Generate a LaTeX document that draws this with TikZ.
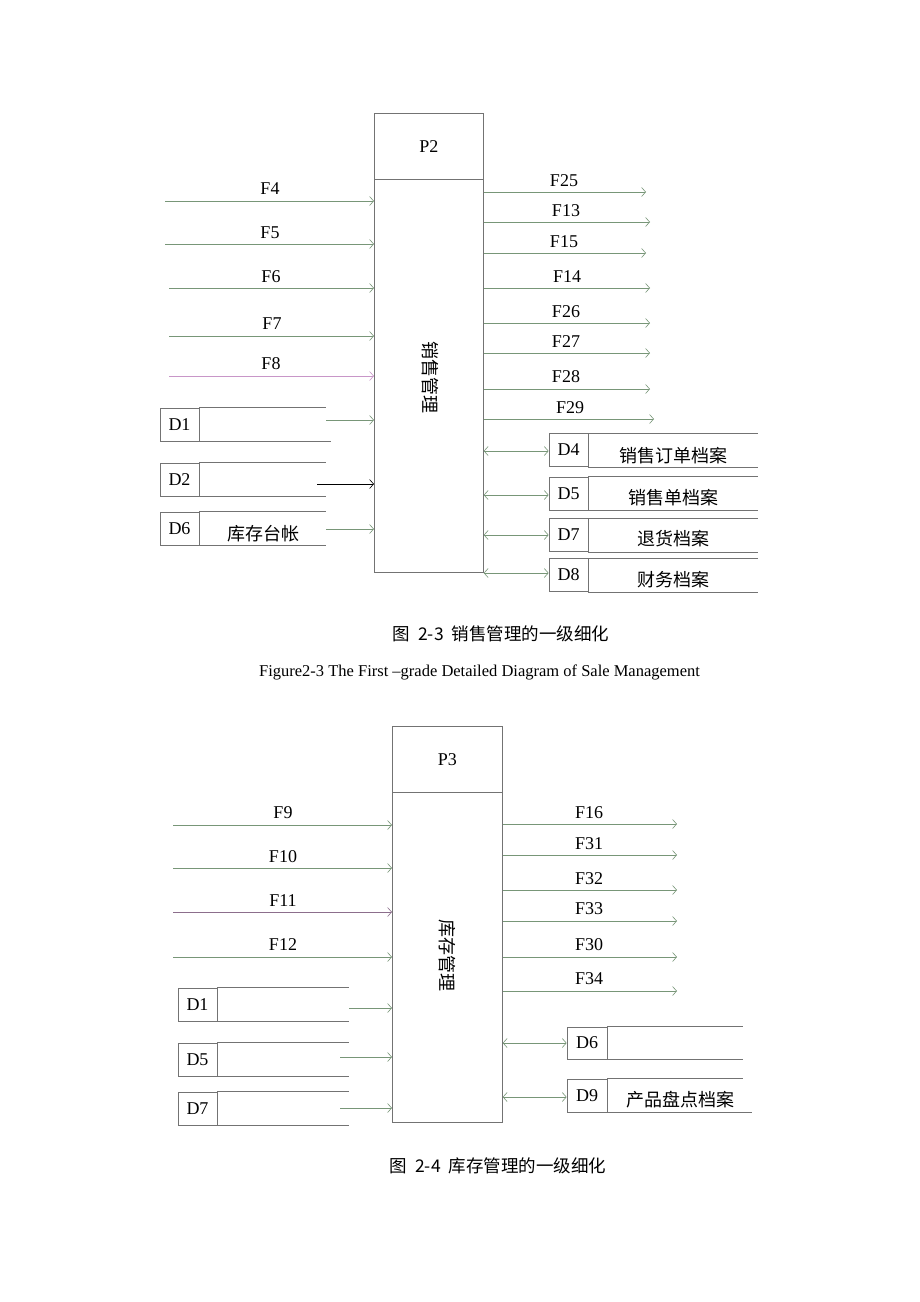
\documentclass[tikz,border=0pt]{standalone}
\usepackage{fontspec}
\setmainfont{Liberation Serif}
\newfontfamily\cjk{Noto Sans CJK SC}
\usetikzlibrary{arrows.meta}
\definecolor{flowG}{RGB}{120,150,120}
\definecolor{flowP}{RGB}{200,150,200}
\definecolor{flowV}{RGB}{140,110,140}
\definecolor{boxC}{RGB}{115,115,115}
\tikzset{
  tip/.tip={Straight Barb[length=4pt,width=9pt,line width=0.6pt]},
  flow/.style={draw=flowG, line width=0.7pt, -tip},
  bflow/.style={draw=flowG, line width=0.7pt, tip-tip},
  lbl/.style={font=\fontsize{18}{20}\selectfont, inner sep=0pt},
  zh/.style={font=\fontsize{18}{20}\selectfont\cjk, inner sep=0pt},
  captext/.style={font=\fontsize{16.5}{18}\selectfont, inner sep=0pt},
  capzh/.style={font=\fontsize{17.5}{19}\selectfont\cjk, inner sep=0pt},
  proc/.style={draw=boxC, line width=0.7pt, inner sep=0pt, anchor=north west, font=\fontsize{18}{20}\selectfont},
  dbox/.style={draw=boxC, line width=0.7pt, inner sep=0pt, minimum width=39pt, minimum height=33pt, font=\fontsize{18}{20}\selectfont},
  sline/.style={draw=boxC, line width=0.7pt},
}
\begin{document}
\begin{tikzpicture}[x=1pt,y=-1pt]
\useasboundingbox[fill=white] (0,0) rectangle (920,1302);

% ================= Figure 2-3 =================
\node[proc, minimum width=109pt, minimum height=66pt] (p2h) at (374,113) {P2};
\node[proc, minimum width=109pt, minimum height=393pt] (p2b) at (374,179) {};
\node[zh, rotate=-90] (p2t) at (430,377) {销售管理};

% inputs
\foreach \nm/\x/\y/\lx/\ly/\c in {F4/165/201/270/189/flowG, F5/165/244/270/233/flowG, F6/169/288/271/277/flowG, F7/169/336/272/324/flowG, F8/169/376/271/364/flowP}{
  \coordinate (in\nm) at (\x,\y);
  \draw[flow, draw=\c] (in\nm) -- (in\nm -| p2b.west);
  \node[lbl] (l\nm) at (\lx,\ly) {\nm};
}

% outputs
\foreach \nm/\y/\ex/\lx/\ly in {F25/192/646/564/181, F13/222/650/566/211, F15/253/646/564/242, F14/288/650/567/277, F26/323/650/566/312, F27/353/650/566/342, F28/389/650/566/377, F29/419/654/570/408}{
  \coordinate (out\nm) at (\ex,\y);
  \draw[flow] (out\nm -| p2b.east) -- (out\nm);
  \node[lbl] (l\nm) at (\lx,\ly) {\nm};
}

% left data stores
\node[dbox] (ad1) at (179.5,424.5) {D1};
\draw[sline] (ad1.north east) -- ++(127,0) coordinate (ad1t);
\draw[sline] (ad1.south east) -- ++(132,0) coordinate (ad1b);
\coordinate (ad1a) at (326,420);
\draw[flow] (ad1a) -- (ad1a -| p2b.west);

\node[dbox] (ad2) at (179.5,479.5) {D2};
\draw[sline] (ad2.north east) -- ++(127,0);
\draw[sline] (ad2.south east) -- ++(127,0);
\coordinate (ad2a) at (317,484);
\draw[line width=0.8pt, draw=black, -tip] (ad2a) -- (ad2a -| p2b.west);

\node[dbox] (ad6) at (179.5,528.5) {D6};
\draw[sline] (ad6.north east) -- ++(127,0);
\draw[sline] (ad6.south east) -- ++(127,0);
\node[zh] (ad6t) at (263,534) {库存台帐};
\coordinate (ad6a) at (326,529);
\draw[flow] (ad6a) -- (ad6a -| p2b.west);

% right data stores
\foreach \nm/\cy/\ay/\txt/\ty in {D4/450/451/销售订单档案/456, D5/493.5/495/销售单档案/498, D7/535/535/退货档案/539, D8/575/573/财务档案/580}{
  \node[dbox] (b\nm) at (568.5,\cy) {\nm};
  \draw[sline] (b\nm.north east) -- ++(170,0);
  \draw[sline] (b\nm.south east) -- ++(170,0);
  \node[zh] (b\nm t) at (673.5,\ty) {\txt};
  \coordinate (b\nm a) at (p2b.east |- 0,\ay);
  \draw[bflow] (b\nm a) -- (b\nm a -| b\nm.west);
}

\node[capzh] (cap1) at (501,634) {图\hspace{8pt}2-3\hspace{8pt}销售管理的一级细化};
\node[captext] (cap1e) at (479.5,672) {Figure2-3 The First –grade Detailed Diagram of Sale Management};

% ================= Figure 2-4 =================
\node[proc, minimum width=110pt, minimum height=66pt] (p3h) at (392,726) {P3};
\node[proc, minimum width=110pt, minimum height=330pt] (p3b) at (392,792) {};
\node[zh, rotate=-90] (p3t) at (447,955) {库存管理};

\foreach \nm/\y/\ly/\c in {F9/825/813/flowG, F10/868/857/flowG, F11/912/901/flowV, F12/957/945/flowG}{
  \coordinate (in\nm) at (173,\y);
  \draw[flow, draw=\c] (in\nm) -- (in\nm -| p3b.west);
  \node[lbl] (l\nm) at (283,\ly) {\nm};
}

\foreach \nm/\y/\ly in {F16/824/813, F31/855/844, F32/890/879, F33/921/909, F30/957/945, F34/991/979}{
  \coordinate (out\nm) at (677,\y);
  \draw[flow] (out\nm -| p3b.east) -- (out\nm);
  \node[lbl] (l\nm) at (589,\ly) {\nm};
}

\foreach \nm/\cy/\ay/\ax in {D1/1004.5/1008/349, D5/1059.5/1057/340, D7/1108.5/1108/340}{
  \node[dbox] (c\nm) at (197.5,\cy) {\nm};
  \draw[sline] (c\nm.north east) -- ++(132,0);
  \draw[sline] (c\nm.south east) -- ++(132,0);
  \coordinate (c\nm a) at (\ax,\ay);
  \draw[flow] (c\nm a) -- (c\nm a -| p3b.west);
}

\node[dbox, minimum width=40pt, minimum height=32pt] (eD6) at (587,1043) {D6};
\draw[sline] (eD6.north east) -- ++(136,0);
\draw[sline] (eD6.south east) -- ++(136,0);
\coordinate (eD6a) at (p3b.east |- 0,1043);
\draw[bflow] (eD6a) -- (eD6a -| eD6.west);

\node[dbox, minimum width=40pt] (eD9) at (587,1095.5) {D9};
\draw[sline] (eD9.north east) -- ++(136,0);
\draw[sline] (eD9.south east) -- ++(145,0);
\node[zh] (eD9t) at (680,1100) {产品盘点档案};
\coordinate (eD9a) at (p3b.east |- 0,1097);
\draw[bflow] (eD9a) -- (eD9a -| eD9.west);

\node[capzh] (cap2) at (498,1166) {图\hspace{8pt}2-4\hspace{8pt}库存管理的一级细化};
\end{tikzpicture}
\end{document}
